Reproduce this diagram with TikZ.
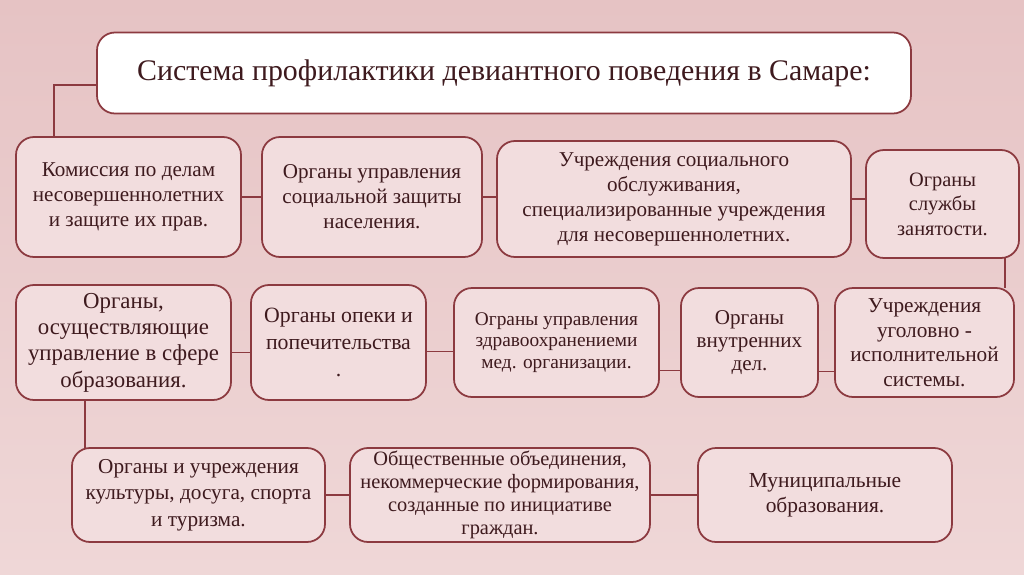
\documentclass[tikz,border=0pt]{standalone}
\usepackage{fontspec}
\setmainfont{Liberation Serif}
\usepackage{xcolor}
\usetikzlibrary{positioning}

\definecolor{bgtop}{HTML}{E6C3C4}
\definecolor{bgbot}{HTML}{EFD7D7}
\definecolor{boxfill}{HTML}{F2DDDE}
\definecolor{edge}{HTML}{8C3A40}
\definecolor{ink}{HTML}{3E1A1E}

\begin{document}
\begin{tikzpicture}[
    box/.style={draw=edge, line width=1pt, fill=boxfill, rounded corners=0.36cm,
                align=center, text=ink, inner sep=1pt, outer sep=0pt,
                font=\fontsize{12}{14.2}\selectfont},
    fs/.style args={#1/#2}{font=\fontsize{#1}{#2}\selectfont},
    link/.style={draw=edge, line width=1.1pt}
  ]
    % background
    \shade[top color=bgtop, bottom color=bgbot] (0,0) rectangle (20.48,-11.48);
    \useasboundingbox (0,0) rectangle (20.48,-11.48);

    \node[box, fill=white, minimum width=16.28cm, minimum height=1.62cm,
          fs=17/20] (title) at (10.08,-1.46)
      {Система профилактики девиантного поведения в Самаре:};

    % first row
    \node[box, minimum width=4.5cm, minimum height=2.4cm] (s1) at (2.57,-3.94)
      {Комиссия по делам\\несовершеннолетних\\и защите их прав.};
    \node[box, minimum width=4.4cm, minimum height=2.4cm, right=0.42cm of s1] (s2)
      {Органы управления\\социальной защиты\\населения.};
    \node[box, minimum width=7.08cm, minimum height=2.32cm, right=0.3cm of s2, yshift=-0.04cm] (s3)
      {Учреждения социального\\обслуживания,\\специализированные учреждения\\для несовершеннолетних.};
    \node[box, fs=11.6/14, minimum width=3.06cm, minimum height=2.16cm, right=0.3cm of s3, yshift=-0.1cm] (s4)
      {Ограны\\службы\\занятости.};

    % second row
    \node[box, fs=13/15, minimum width=4.3cm, minimum height=2.3cm] (s5) at (2.47,-6.85)
      {Органы,\\осуществляющие\\управление в сфере\\образования.};
    \node[box, fs=12.4/15.3, minimum width=3.5cm, minimum height=2.3cm, right=0.4cm of s5] (s6)
      {Органы опеки и\\попечительства\\.};
    \node[box, fs=11/12.2, minimum width=4.1cm, minimum height=2.18cm, right=0.56cm of s6] (s7)
      {Ограны управления\\здравоохранениеми\\мед. организации.};
    \node[box, fs=12/13.2, minimum width=2.74cm, minimum height=2.18cm, right=0.44cm of s7] (s8)
      {Органы\\внутренних\\дел.};
    \node[box, fs=12.1/14, minimum width=3.58cm, minimum height=2.18cm, right=0.34cm of s8] (s9)
      {Учреждения\\уголовно -\\исполнительной\\системы.};

    % third row
    \node[box, fs=12.1/15.1, minimum width=5.06cm, minimum height=1.88cm] (s10) at (3.97,-9.9)
      {Органы и учреждения\\культуры, досуга, спорта\\и туризма.};
    \node[box, fs=11.6/13.2, minimum width=6cm, minimum height=1.88cm, right=0.5cm of s10] (s11)
      {Общественные объединения,\\некоммерческие формирования,\\созданные по инициативе\\граждан.};
    \node[box, fs=12.2/14, minimum width=5.08cm, minimum height=1.88cm, right=0.96cm of s11] (s12)
      {Муниципальные\\образования.};

    % connectors
    \draw[link] ([yshift=-0.24cm]title.west) -| ([xshift=0.76cm]s1.north west);
    \draw[link] (s1) -- (s2);
    \draw[link] (s2.east) -- (s2.east -| s3.west);
    \draw[link] (s3.east) -- (s3.east -| s4.west);
    \draw[link] ([xshift=-0.28cm]s4.south east) -- ([xshift=-0.28cm]s4.south east |- s9.north);
    \draw[link] ([yshift=-0.2cm]s5.east) -- ([yshift=-0.2cm]s6.west);
    \draw[link] ([yshift=-0.18cm]s6.east) -- ([yshift=-0.18cm]s7.west);
    \draw[link] ([yshift=-0.56cm]s7.east) -- ([yshift=-0.56cm]s8.west);
    \draw[link] ([yshift=-0.58cm]s8.east) -- ([yshift=-0.58cm]s9.west);
    \draw[link] ([xshift=1.38cm]s5.south west) -- ([xshift=1.38cm]s5.south west |- s10.north);
    \draw[link] (s10) -- (s11);
    \draw[link] (s11) -- (s12);
  \end{tikzpicture}
\end{document}
